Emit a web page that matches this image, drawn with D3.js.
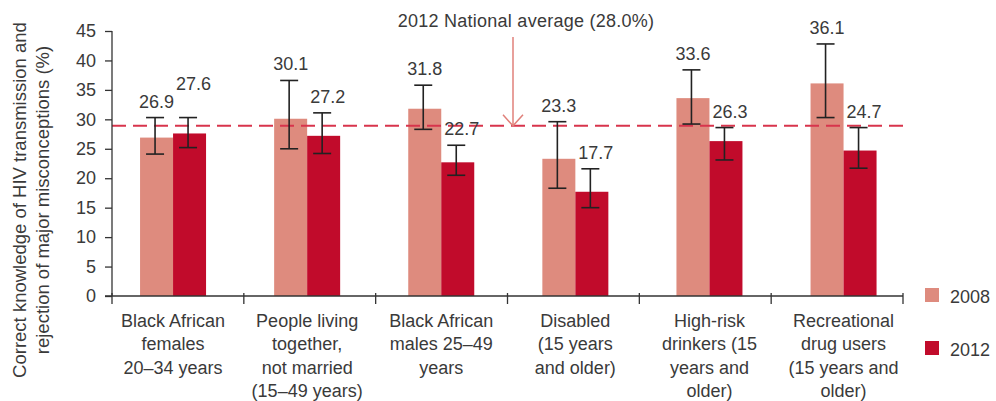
<!DOCTYPE html>
<html>
<head>
<meta charset="utf-8">
<script src="https://cdn.jsdelivr.net/npm/d3@7"></script>
<style>
  html, body { margin: 0; padding: 0; background: #fff; }
  svg { display: block; }
  text { font-family: "Liberation Sans", Arial, Helvetica, sans-serif; fill: #3a3a3a; }
</style>
</head>
<body>
<svg id="chart" width="996" height="401"></svg>
<script>
// ---------------- DATA ----------------
const categories = [
  ["Black African", "females", "20–34 years"],
  ["People living", "together,", "not married", "(15–49 years)"],
  ["Black African", "males 25–49", "years"],
  ["Disabled", "(15 years", "and older)"],
  ["High-risk", "drinkers (15", "years and", "older)"],
  ["Recreational", "drug users", "(15 years and", "older)"]
];
const seriesNames = ["2008", "2012"];
const values2008 = [26.9, 30.1, 31.8, 23.3, 33.6, 36.1];
const values2012 = [27.6, 27.2, 22.7, 17.7, 26.3, 24.7];
const errLow2008  = [24.1, 25.0, 28.3, 18.3, 29.2, 30.3];
const errHigh2008 = [30.3, 36.6, 35.8, 29.6, 38.4, 42.8];
const errLow2012  = [25.2, 24.2, 20.5, 15.0, 23.1, 21.7];
const errHigh2012 = [30.3, 31.1, 25.6, 21.6, 28.6, 28.6];
const yTicks = [0, 5, 10, 15, 20, 25, 30, 35, 40, 45];
const avgLineValue = 28.9;
const avgLabel = "2012 National average (28.0%)";
const yTitle = ["Correct knowledge of HIV transmission and", "rejection of major misconceptions (%)"];

(function () {
// ---------------- LAYOUT ----------------
const colors = { "2008": "#de8b7e", "2012": "#c10b2b" };
const svg = d3.select("#chart");
const pLeft = 112, pRight = 903, pTop = 31, pBottom = 296;

const y = d3.scaleLinear().domain([0, 45]).range([pBottom, pTop]);
// axis division scale (ticks) and bar-group placement scale
const xAxisBand = d3.scaleBand().domain(d3.range(categories.length)).range([pLeft, pRight]).padding(0);
const x0 = d3.scaleBand().domain(d3.range(categories.length)).range([106, 910.6]).padding(0);
const groupW = 66;
const x1 = d3.scaleBand().domain(seriesNames).range([0, groupW]).padding(0);

const rows = [];
categories.forEach((c, i) => {
  rows.push({ i, s: "2008", v: values2008[i], lo: errLow2008[i], hi: errHigh2008[i] });
  rows.push({ i, s: "2012", v: values2012[i], lo: errLow2012[i], hi: errHigh2012[i] });
});
const bx = d => x0(d.i) + (x0.bandwidth() - groupW) / 2 + x1(d.s);
const cx = d => bx(d) + x1.bandwidth() / 2;

// Bars
svg.append("g").selectAll("rect").data(rows).join("rect")
  .attr("x", d => bx(d))
  .attr("y", d => y(d.v))
  .attr("width", x1.bandwidth())
  .attr("height", d => y(0) - y(d.v))
  .attr("fill", d => colors[d.s]);

// Dashed national average line
svg.append("line")
  .attr("x1", pLeft).attr("x2", pRight)
  .attr("y1", y(avgLineValue)).attr("y2", y(avgLineValue))
  .attr("stroke", "#d8344c").attr("stroke-width", 2)
  .attr("stroke-dasharray", "14,7");

// Error bars
const eb = svg.append("g").attr("stroke", "#222").attr("stroke-width", 1.6).attr("fill", "none");
rows.forEach(d => {
  const c = cx(d) - 1.5;
  eb.append("line").attr("x1", c).attr("x2", c).attr("y1", y(d.hi)).attr("y2", y(d.lo));
  eb.append("line").attr("x1", c - 9).attr("x2", c + 9).attr("y1", y(d.hi)).attr("y2", y(d.hi));
  eb.append("line").attr("x1", c - 9).attr("x2", c + 9).attr("y1", y(d.lo)).attr("y2", y(d.lo));
});

// Value labels with simple collision avoidance
const labelFont = 18, labelH = 13;
const placed = [];
rows.forEach(d => {
  const txt = d.v.toFixed(1);
  let lx = cx(d) + (d.s === "2012" ? 4 : 0);
  let base = y(d.hi) - 10;
  const t = svg.append("text")
    .attr("x", lx).attr("y", base)
    .attr("text-anchor", "middle")
    .style("font-size", labelFont + "px")
    .text(txt);
  const w = t.node().getComputedTextLength();
  placed.forEach(p => {
    const overlapX = Math.abs(p.x - lx) < (p.w + w) / 2 + 4;
    const overlapY = Math.abs(p.base - base) < labelH + 2;
    if (overlapX && overlapY) base = p.base - 18;
  });
  t.attr("y", base);
  placed.push({ x: lx, base, w });
});

// Y axis
const yAxis = d3.axisLeft(y).tickValues(yTicks).tickSize(7).tickPadding(9).tickFormat(d3.format("d"));
const gy = svg.append("g").attr("transform", `translate(${pLeft},0)`).call(yAxis);
gy.select(".domain").attr("stroke", "#333").attr("stroke-width", 1.3).attr("d", `M0,${pTop}V${pBottom}`);
gy.selectAll(".tick line").attr("stroke", "#333").attr("stroke-width", 1.3);
gy.selectAll(".tick text").style("font-size", "18px").style("font-family", "'Liberation Sans', Arial, sans-serif").attr("fill", "#3a3a3a");

// X axis line and boundary ticks
svg.append("line").attr("x1", pLeft - 7).attr("x2", pRight).attr("y1", pBottom).attr("y2", pBottom)
  .attr("stroke", "#333").attr("stroke-width", 1.3);
const bounds = d3.range(categories.length + 1).map(i => i < categories.length ? xAxisBand(i) : xAxisBand(i - 1) + xAxisBand.bandwidth());
svg.append("g").selectAll("line").data(bounds).join("line")
  .attr("x1", d => d).attr("x2", d => d)
  .attr("y1", pBottom - 3).attr("y2", pBottom + 8)
  .attr("stroke", "#333").attr("stroke-width", 1.3);

// X category labels
categories.forEach((lines, i) => {
  const t = svg.append("text")
    .attr("text-anchor", "middle")
    .style("font-size", "18px");
  lines.forEach((ln, k) => {
    t.append("tspan").attr("x", x0(i) + x0.bandwidth() / 2).attr("y", 327 + k * 23.3).text(ln);
  });
});

// Y axis title
const yt = svg.append("text")
  .attr("transform", "translate(26,200) rotate(-90)")
  .attr("text-anchor", "middle")
  .style("font-size", "18.5px");
yTitle.forEach((ln, k) => {
  yt.append("tspan").attr("x", 0).attr("y", k * 23).text(ln);
});

// Annotation + arrow
const ax = 513;
svg.append("text").attr("x", 526).attr("y", 27).attr("text-anchor", "middle")
  .style("font-size", "18px").style("letter-spacing", "0.25px").text(avgLabel);
const arrow = svg.append("g").attr("stroke", "#e0807a").attr("stroke-width", 1.5).attr("fill", "none");
arrow.append("line").attr("x1", ax).attr("x2", ax).attr("y1", 37).attr("y2", y(avgLineValue));
arrow.append("path").attr("d", `M${ax - 10},${y(avgLineValue) - 11}L${ax},${y(avgLineValue)}L${ax + 10},${y(avgLineValue) - 11}`);

// Legend
const lg = svg.append("g");
seriesNames.forEach((s, k) => {
  const ly = 288 + k * 53;
  lg.append("rect").attr("x", 925).attr("y", ly).attr("width", 14).attr("height", 14).attr("fill", colors[s]);
  lg.append("text").attr("x", 950).attr("y", ly + 15).style("font-size", "18px").text(s);
});
})();
</script>
</body>
</html>
